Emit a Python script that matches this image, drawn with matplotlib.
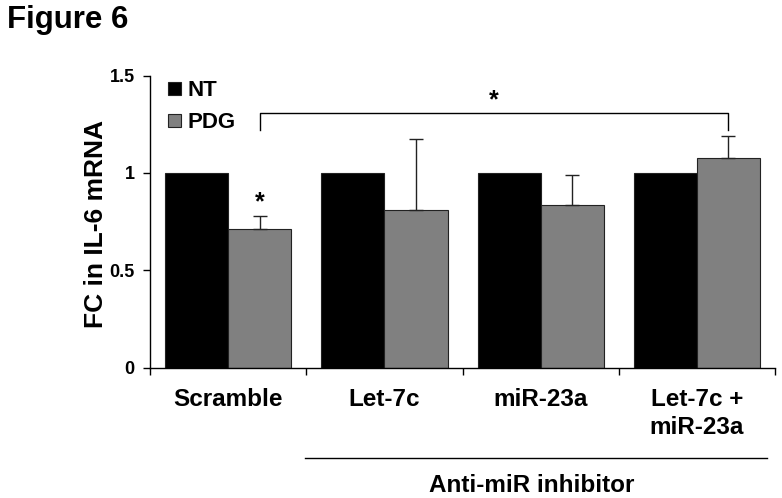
import matplotlib.pyplot as plt
import numpy as np

plt.rcParams['font.family'] = ['Liberation Sans', 'DejaVu Sans']
plt.rcParams['font.weight'] = 'bold'

categories = ['Scramble', 'Let-7c', 'miR-23a', 'Let-7c +\nmiR-23a']
nt = [1.0, 1.0, 1.0, 1.0]
pdg = [0.714, 0.809, 0.835, 1.077]
pdg_err = [0.063, 0.365, 0.154, 0.113]

fig = plt.figure(figsize=(7.82, 4.98), dpi=100)
ax = fig.add_axes([0.192, 0.262, 0.799, 0.586])

x = np.arange(len(categories))
w = 0.404
ax.bar(x - w / 2, nt, w, color='black', edgecolor='#222222', linewidth=0.8, label='NT')
ax.bar(x + w / 2, pdg, w, color='#808080', edgecolor='#222222', linewidth=0.8, label='PDG')
ax.errorbar(x + w / 2, pdg, yerr=[np.zeros(4), pdg_err], fmt='none',
            ecolor='#222222', elinewidth=1, capsize=5, capthick=1)

ax.set_xlim(-0.5, 3.5)
ax.set_ylim(0, 1.5)
ax.set_yticks([0, 0.5, 1, 1.5])
ax.set_yticklabels(['0', '0.5', '1', '1.5'])
ax.set_xticks(np.arange(-0.5, 3.6, 1))
ax.set_xticklabels([])
ax.tick_params(axis='y', labelsize=13, length=5, width=1, direction='out', pad=6)
ax.tick_params(axis='x', length=5, width=1, direction='out')
for s in ['top', 'right']:
    ax.spines[s].set_visible(False)
for s in ['left', 'bottom']:
    ax.spines[s].set_linewidth(1)

for i, c in enumerate(categories):
    ax.text(x[i], -0.105, c, ha='center', va='top', fontsize=17.5, fontweight='bold',
            linespacing=1.3)

fig.text(96 / 782, 0.551, 'FC in IL-6 mRNA', rotation=90, ha='center', va='center',
         fontsize=19, fontweight='bold')

# significance marks
ax.text(x[0] + w / 2, pdg[0] + pdg_err[0] + 0.01, '*', ha='center', va='bottom',
        fontsize=18, fontweight='bold')
bx0, bx1 = x[0] + w / 2, x[3] + w / 2
ax.plot([bx0, bx0, bx1, bx1], [1.22, 1.306, 1.306, 1.22], color='black', lw=1)
ax.text((bx0 + bx1) / 2, 1.31, '*', ha='center', va='bottom', fontsize=18,
        fontweight='bold')

# group line under anti-miR
ax.plot([0.49, 3.45], [-0.465, -0.465], color='black', lw=1, clip_on=False)
ax.text(1.94, -0.545, 'Anti-miR inhibitor', ha='center', va='top', fontsize=17.5,
        fontweight='bold')

ax.legend(loc='upper left', bbox_to_anchor=(0.015, 1.015), frameon=False, fontsize=16,
          handlelength=0.55, handleheight=0.55, handletextpad=0.3, labelspacing=0.5,
          borderaxespad=0.0)

fig.text(0.009, 1 - 28 / 498, 'Figure 6', fontsize=22.5, fontweight='bold', ha='left',
         va='baseline')

fig.savefig('out.png', dpi=100)
